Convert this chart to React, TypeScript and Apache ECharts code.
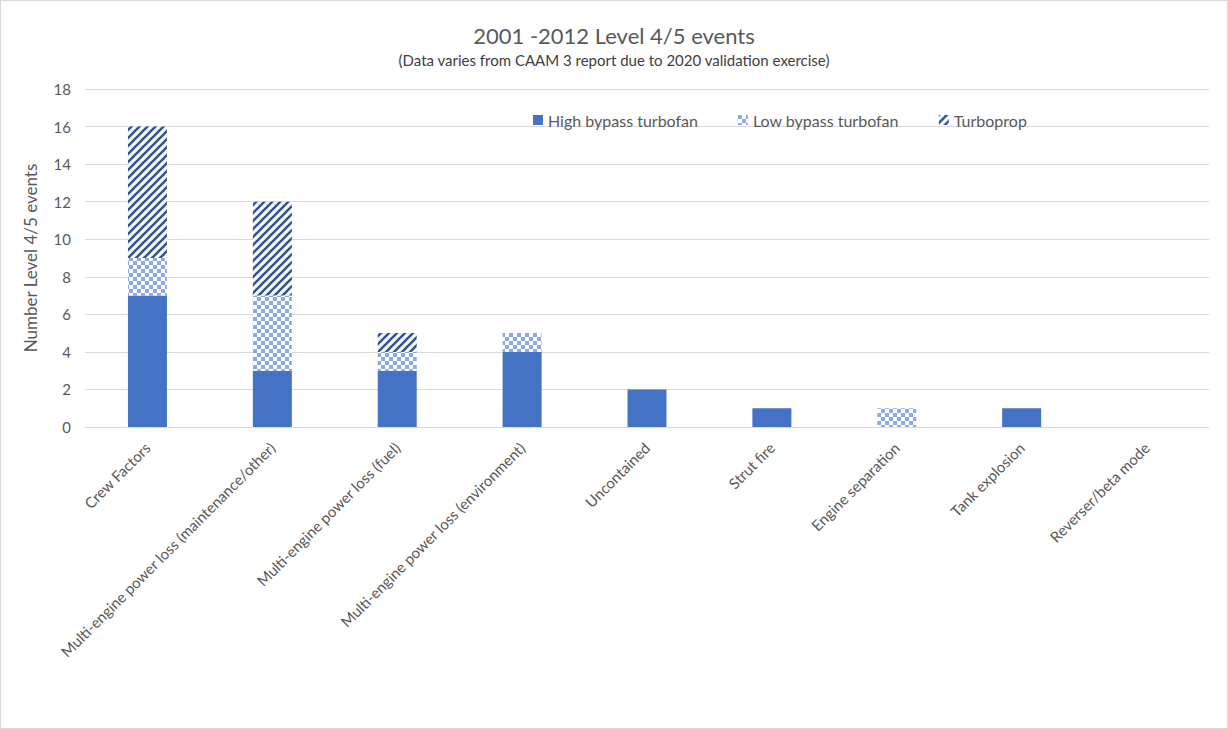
import React, { useEffect, useRef } from "react";
import * as echarts from "echarts";

const categories = [
  "Crew Factors",
  "Multi-engine power loss (maintenance/other)",
  "Multi-engine power loss (fuel)",
  "Multi-engine power loss (environment)",
  "Uncontained",
  "Strut fire",
  "Engine separation",
  "Tank explosion",
  "Reverser/beta mode",
];
const highBypass = [7, 3, 3, 4, 2, 1, 0, 1, 0];
const lowBypass = [2, 4, 1, 1, 0, 0, 1, 0, 0];
const turboprop = [7, 5, 1, 0, 0, 0, 0, 0, 0];
const yTicks = [0, 2, 4, 6, 8, 10, 12, 14, 16, 18];

const FONT = "Lato, 'Open Sans', sans-serif";
const TEXT = "#595959";

function checkerCanvas() {
  const c = document.createElement("canvas");
  c.width = 8;
  c.height = 8;
  const ctx = c.getContext("2d")!;
  ctx.fillStyle = "#ffffff";
  ctx.fillRect(0, 0, 8, 8);
  ctx.fillStyle = "#8faadc";
  ctx.fillRect(0, 0, 4, 4);
  ctx.fillRect(4, 4, 4, 4);
  return c;
}

function stripeCanvas() {
  const c = document.createElement("canvas");
  c.width = 8;
  c.height = 8;
  const ctx = c.getContext("2d")!;
  ctx.fillStyle = "#ffffff";
  ctx.fillRect(0, 0, 8, 8);
  ctx.strokeStyle = "#2f5597";
  ctx.lineWidth = 2.6;
  ctx.lineCap = "square";
  ctx.beginPath();
  ctx.moveTo(-2, 10);
  ctx.lineTo(10, -2);
  ctx.moveTo(-6, 6);
  ctx.lineTo(6, -6);
  ctx.moveTo(2, 14);
  ctx.lineTo(14, 2);
  ctx.stroke();
  return c;
}

export default function App() {
  const ref = useRef<HTMLDivElement>(null);
  useEffect(() => {
    if (!ref.current) return;
    const chart = echarts.init(ref.current, undefined, { renderer: "svg" });
    const checker = { image: checkerCanvas(), repeat: "repeat" } as any;
    const stripes = { image: stripeCanvas(), repeat: "repeat" } as any;
    chart.setOption({
      animation: false,
      backgroundColor: "#ffffff",
      title: {
        text: "2001 -2012 Level 4/5 events",
        subtext: "(Data varies from CAAM 3 report due to 2020 validation exercise)",
        left: "center",
        top: 18,
        itemGap: 6,
        textStyle: { fontFamily: FONT, fontSize: 22, fontWeight: "normal", color: TEXT },
        subtextStyle: { fontFamily: FONT, fontSize: 15, color: "#404040" },
      },
      legend: {
        left: 527,
        top: 106,
        itemWidth: 10,
        itemHeight: 10,
        itemGap: 40,
        icon: "rect",
        textStyle: { fontFamily: FONT, fontSize: 16, color: TEXT },
        data: ["High bypass turbofan", "Low bypass turbofan", "Turboprop"],
      },
      grid: { left: 84, right: 18, top: 88, bottom: 301, containLabel: false },
      xAxis: {
        type: "category",
        data: categories,
        axisLine: { lineStyle: { color: "#d9d9d9", width: 1 } },
        axisTick: { show: false },
        axisLabel: {
          rotate: 45,
          interval: 0,
          margin: 18,
          fontFamily: FONT,
          fontSize: 15,
          color: TEXT,
        },
      },
      yAxis: {
        type: "value",
        min: 0,
        max: 18,
        interval: 2,
        name: "Number Level 4/5 events",
        nameLocation: "middle",
        nameGap: 46,
        nameTextStyle: { fontFamily: FONT, fontSize: 17, color: TEXT },
        axisLine: { show: false },
        axisTick: { show: false },
        axisLabel: {
          fontFamily: FONT,
          fontSize: 15,
          color: TEXT,
          margin: 14,
          formatter: (v: number) => (yTicks.includes(v) ? String(v) : ""),
        },
        splitLine: { lineStyle: { color: "#d9d9d9", width: 1 } },
      },
      series: [
        {
          name: "High bypass turbofan",
          type: "bar",
          stack: "total",
          barWidth: 39,
          data: highBypass,
          itemStyle: { color: "#4472c4" },
        },
        {
          name: "Low bypass turbofan",
          type: "bar",
          stack: "total",
          barWidth: 39,
          data: lowBypass,
          itemStyle: { color: checker },
        },
        {
          name: "Turboprop",
          type: "bar",
          stack: "total",
          barWidth: 39,
          data: turboprop,
          itemStyle: { color: stripes },
        },
      ],
    });
    return () => chart.dispose();
  }, []);
  return (
    <div
      style={{
        position: "absolute",
        left: 0,
        top: 0,
        width: 1228,
        height: 729,
        boxSizing: "border-box",
        border: "1px solid #d9d9d9",
        background: "#fff",
      }}
    >
      <div ref={ref} style={{ width: 1226, height: 727 }} />
    </div>
  );
}
